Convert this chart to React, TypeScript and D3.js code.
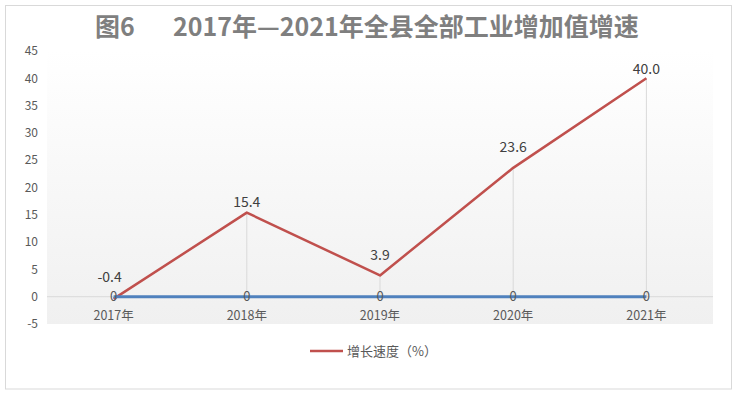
import React from "react";
import * as d3 from "d3";

const categories = ["2017年", "2018年", "2019年", "2020年", "2021年"];
const growthRate = [-0.4, 15.4, 3.9, 23.6, 40.0];
const growthLabels = ["-0.4", "15.4", "3.9", "23.6", "40.0"];
const zeroSeries = [0, 0, 0, 0, 0];
const yTicks = [-5, 0, 5, 10, 15, 20, 25, 30, 35, 40, 45];
const seriesName = "增长速度（%）";
const titleLead = "图6";
const titleMain = "2017年—2021年全县全部工业增加值增速";

// label placement tweaks (vertical offset above the point, horizontal nudge)
const labelDy = [-22, -11, -20, -21, -9];
const labelDx = [-4, 0, 0, 0, 0];

const W = 738;
const H = 395;
const plot = { left: 47, right: 713, top: 51, bottom: 324 };
const FONT = "'Noto Sans CJK SC', 'Noto Sans', sans-serif";

export default function App() {
  const x = d3
    .scalePoint<string>()
    .domain(categories)
    .range([plot.left, plot.right])
    .padding(0.5);
  const y = d3.scaleLinear().domain([-5, 45]).range([plot.bottom, plot.top]);

  const line = d3
    .line<number>()
    .x((_, i) => x(categories[i]) as number)
    .y((d) => y(d));

  return (
    <svg
      width={W}
      height={H}
      style={{ position: "absolute", left: 0, top: 0, background: "#fff" }}
      fontFamily={FONT}
    >
      <defs>
        <linearGradient id="bg" x1="0" y1="0" x2="0" y2="1">
          <stop offset="0" stopColor="#ffffff" />
          <stop offset="1" stopColor="#f0f0f0" />
        </linearGradient>
      </defs>
      <rect x={5.5} y={5.5} width={726} height={383.5} fill="#fff" stroke="#d9d9d9" strokeWidth={1} />
      <rect
        x={plot.left}
        y={plot.top}
        width={plot.right - plot.left}
        height={plot.bottom - plot.top}
        fill="url(#bg)"
      />
      {/* title */}
      <text y={36} fontSize={25} fontWeight="bold" fill="#7f7f7f">
        <tspan x={95}>{titleLead}</tspan>
        <tspan x={173}>{titleMain}</tspan>
      </text>
      {/* y tick labels */}
      {yTicks.map((t) => (
        <text
          key={t}
          x={38}
          y={y(t)}
          dy="0.35em"
          textAnchor="end"
          fontSize={12}
          fill="#595959"
        >
          {t}
        </text>
      ))}
      {/* zero axis line */}
      <line x1={plot.left} x2={plot.right} y1={y(0)} y2={y(0)} stroke="#d9d9d9" strokeWidth={1} />
      {/* drop lines */}
      {growthRate.map((v, i) => (
        <line
          key={i}
          x1={x(categories[i])}
          x2={x(categories[i])}
          y1={y(Math.max(v, 0))}
          y2={y(0)}
          stroke="#d9d9d9"
          strokeWidth={1}
        />
      ))}
      {/* x labels */}
      {categories.map((c) => (
        <text
          key={c}
          x={x(c)}
          y={y(0) + 19}
          dy="0.35em"
          textAnchor="middle"
          fontSize={12.5}
          fill="#595959"
        >
          {c}
        </text>
      ))}
      {/* red series */}
      <path d={line(growthRate) || ""} fill="none" stroke="#c0504d" strokeWidth={2.5} strokeLinejoin="round" />
      {/* blue series */}
      <path d={line(zeroSeries) || ""} fill="none" stroke="#4f81bd" strokeWidth={3} />
      {/* labels */}
      {growthRate.map((v, i) => (
        <text
          key={i}
          x={(x(categories[i]) as number) + labelDx[i]}
          y={y(v) + labelDy[i]}
          dy="0.35em"
          textAnchor="middle"
          fontSize={14}
          fill="#404040"
        >
          {growthLabels[i]}
        </text>
      ))}
      {zeroSeries.map((v, i) => (
        <text
          key={i}
          x={x(categories[i])}
          y={y(v)}
          dy="0.35em"
          textAnchor="middle"
          fontSize={13}
          fill="#595959"
        >
          {v}
        </text>
      ))}
      {/* legend */}
      <line x1={310} x2={343} y1={351} y2={351} stroke="#c0504d" strokeWidth={2.5} />
      <text x={347} y={351} dy="0.35em" fontSize={13} fill="#595959">
        {seriesName}
      </text>
    </svg>
  );
}
